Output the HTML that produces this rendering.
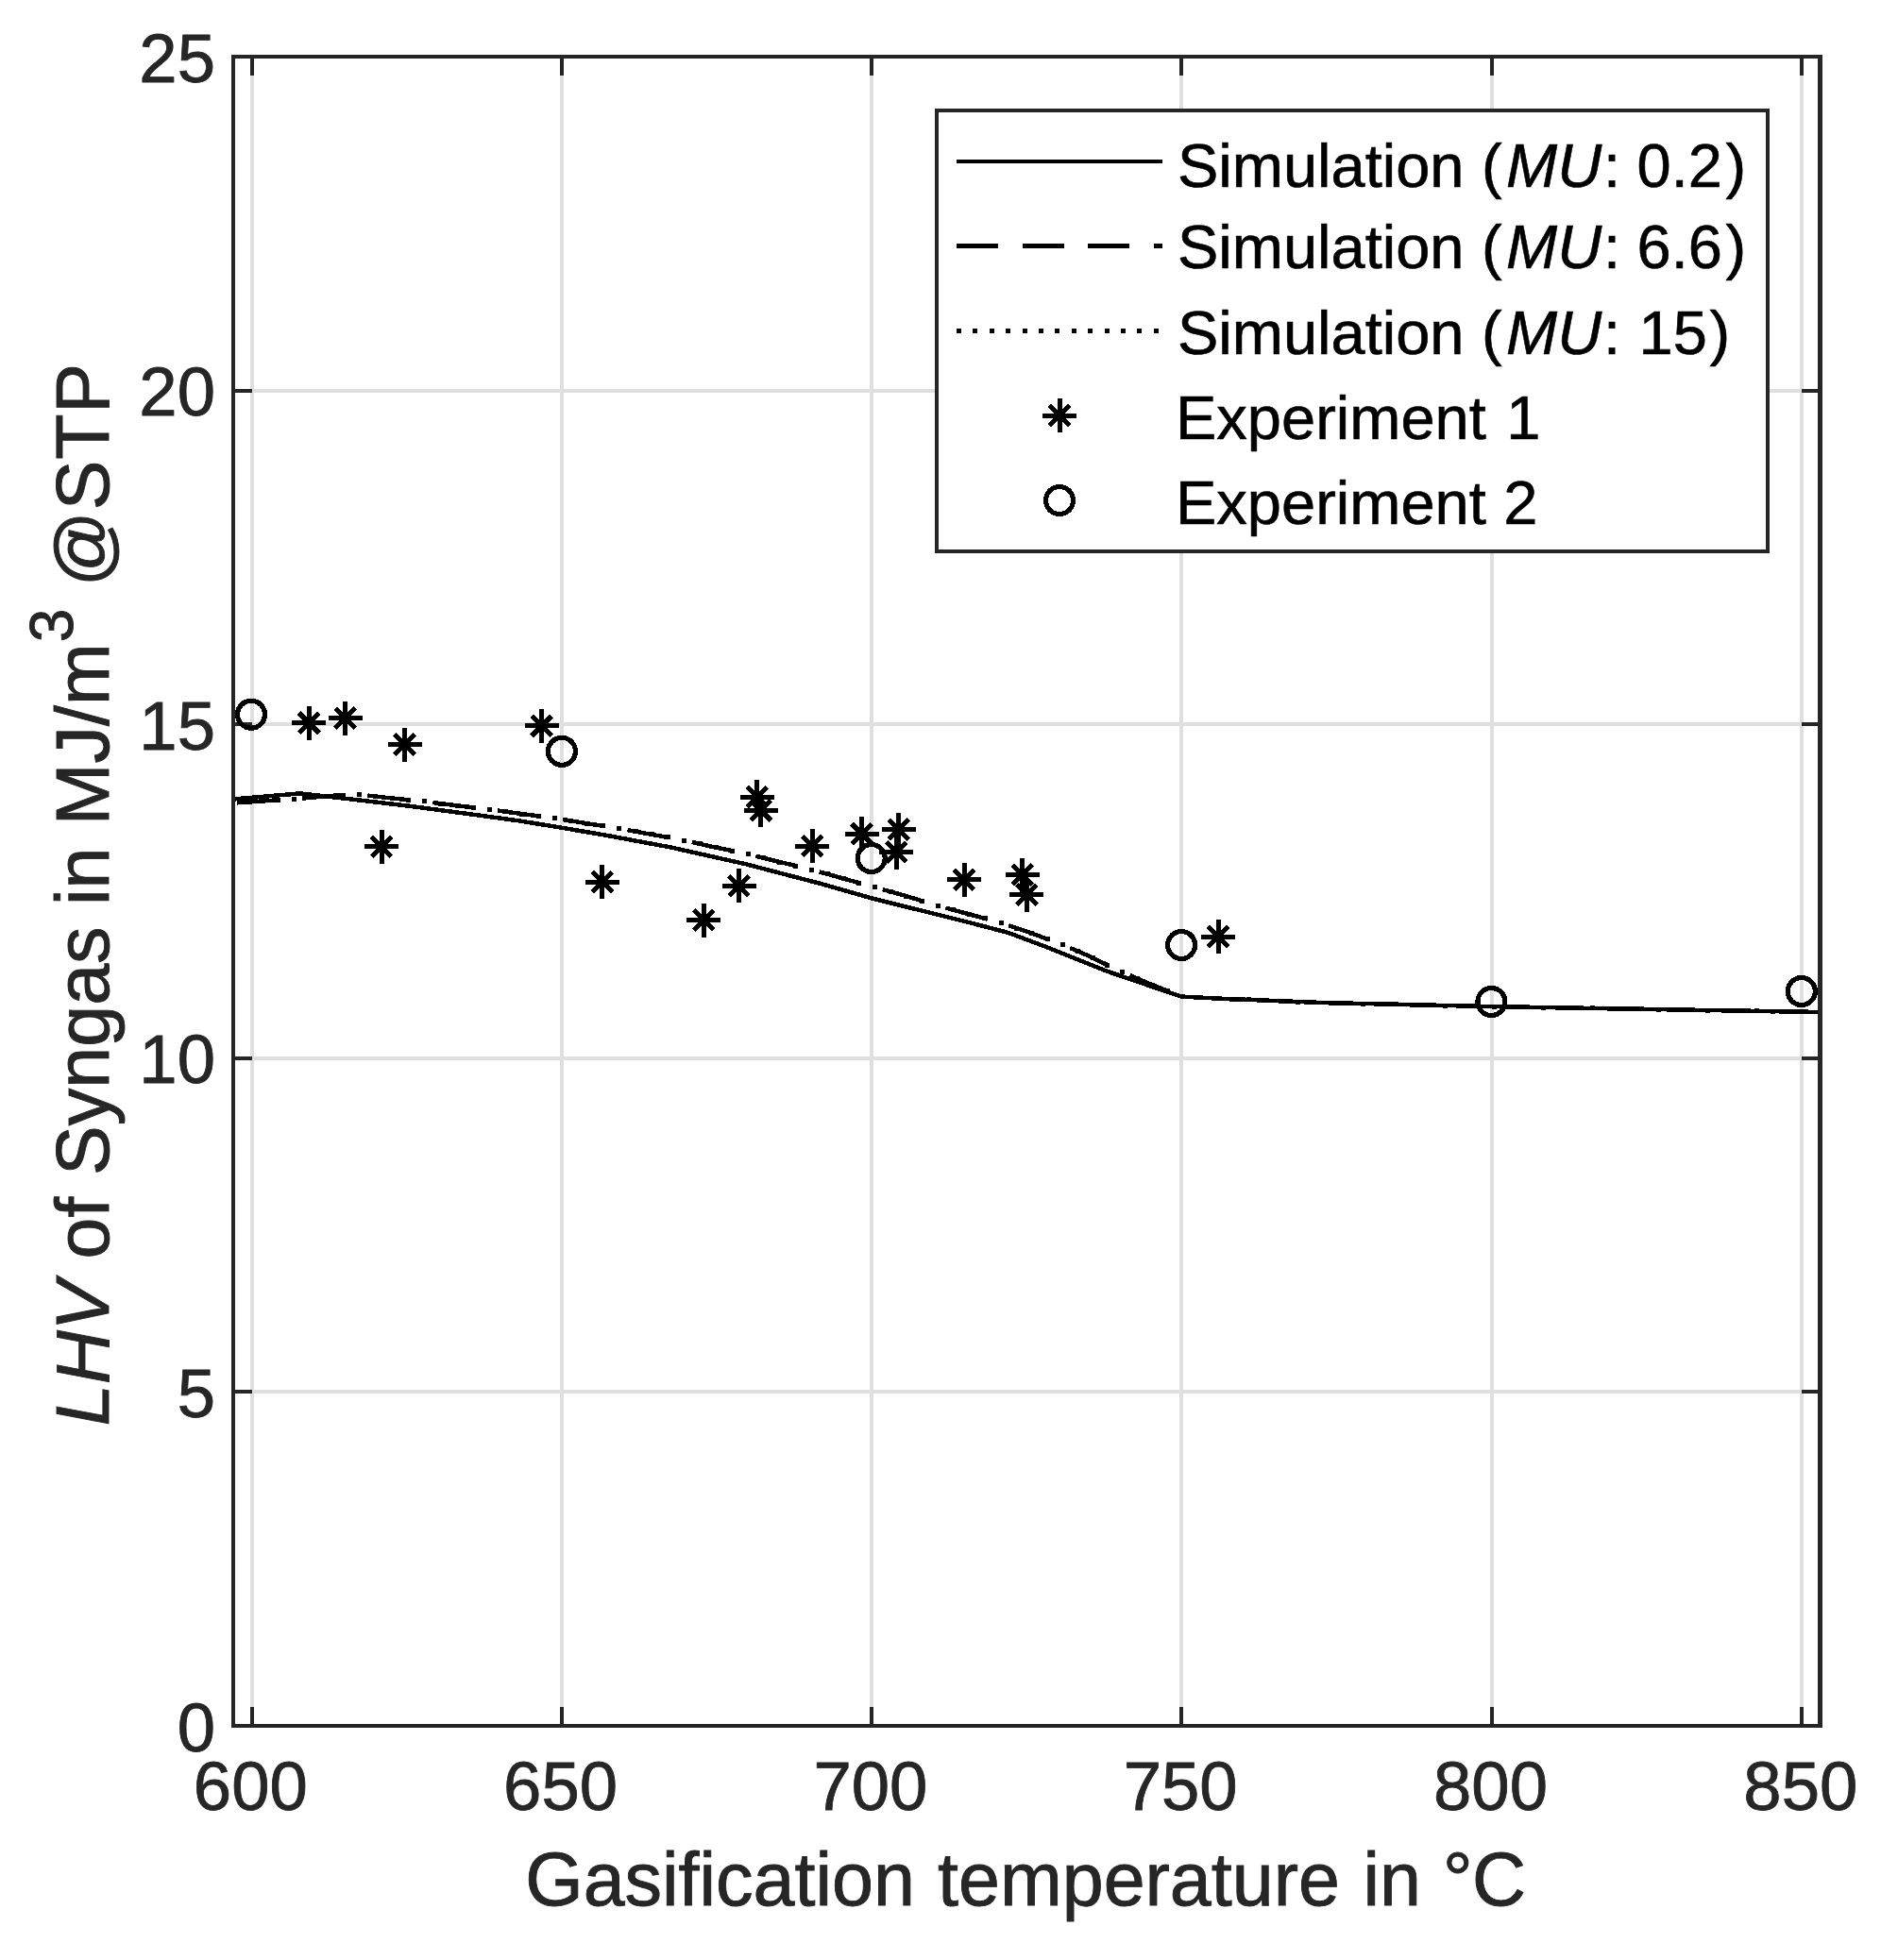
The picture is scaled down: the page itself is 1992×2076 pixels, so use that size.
<!DOCTYPE html>
<html lang="en"><head><meta charset="utf-8"><title>LHV of Syngas vs gasification temperature</title>
<style>html,body{margin:0;padding:0;background:#fff}svg{display:block}text{font-family:"Liberation Sans",Arial,Helvetica,sans-serif}.tk{font-size:72.5px;fill:#262626;stroke:#262626;stroke-width:0.8px}.lb{font-size:79px;fill:#262626;stroke:#262626;stroke-width:0.9px}.lg{font-size:65px;fill:#000;stroke:#000;stroke-width:0.6px}</style></head><body>
<svg width="1992" height="2076" viewBox="0 0 1992 2076">
<rect width="1992" height="2076" fill="#fff"/>
<g stroke="#dfdfdf" stroke-width="4" shape-rendering="crispEdges">
<line x1="266.5" x2="266.5" y1="60.0" y2="1828.0"/>
<line x1="594.8" x2="594.8" y1="60.0" y2="1828.0"/>
<line x1="923.1" x2="923.1" y1="60.0" y2="1828.0"/>
<line x1="1251.4" x2="1251.4" y1="60.0" y2="1828.0"/>
<line x1="1579.7" x2="1579.7" y1="60.0" y2="1828.0"/>
<line x1="1908.0" x2="1908.0" y1="60.0" y2="1828.0"/>
<line x1="247.0" x2="1927.5" y1="1474.4" y2="1474.4"/>
<line x1="247.0" x2="1927.5" y1="1120.8" y2="1120.8"/>
<line x1="247.0" x2="1927.5" y1="767.2" y2="767.2"/>
<line x1="247.0" x2="1927.5" y1="413.6" y2="413.6"/>
</g>
<g stroke="#262626" stroke-width="4" shape-rendering="crispEdges">
<line x1="266.5" x2="266.5" y1="1828.0" y2="1808.0"/><line x1="266.5" x2="266.5" y1="60.0" y2="80.0"/>
<line x1="594.8" x2="594.8" y1="1828.0" y2="1808.0"/><line x1="594.8" x2="594.8" y1="60.0" y2="80.0"/>
<line x1="923.1" x2="923.1" y1="1828.0" y2="1808.0"/><line x1="923.1" x2="923.1" y1="60.0" y2="80.0"/>
<line x1="1251.4" x2="1251.4" y1="1828.0" y2="1808.0"/><line x1="1251.4" x2="1251.4" y1="60.0" y2="80.0"/>
<line x1="1579.7" x2="1579.7" y1="1828.0" y2="1808.0"/><line x1="1579.7" x2="1579.7" y1="60.0" y2="80.0"/>
<line x1="1908.0" x2="1908.0" y1="1828.0" y2="1808.0"/><line x1="1908.0" x2="1908.0" y1="60.0" y2="80.0"/>
<line x1="247.0" x2="267.0" y1="1474.4" y2="1474.4"/><line x1="1927.5" x2="1907.5" y1="1474.4" y2="1474.4"/>
<line x1="247.0" x2="267.0" y1="1120.8" y2="1120.8"/><line x1="1927.5" x2="1907.5" y1="1120.8" y2="1120.8"/>
<line x1="247.0" x2="267.0" y1="767.2" y2="767.2"/><line x1="1927.5" x2="1907.5" y1="767.2" y2="767.2"/>
<line x1="247.0" x2="267.0" y1="413.6" y2="413.6"/><line x1="1927.5" x2="1907.5" y1="413.6" y2="413.6"/>
</g>
<g fill="none" stroke="#000" stroke-width="4.5" shape-rendering="crispEdges">
<path d="M247.0,846.5 L317.6,840.4 L363.6,845.5 L430.0,853.3 L500.0,862.6 L550.0,869.4 L594.6,876.7 L640.0,884.4 L710.0,897.4 L790.0,915.3 L870.0,936.2 L922.8,951.3 L1030.0,978.0 L1068.0,988.0 L1110.0,1003.8 L1172.0,1028.6 L1251.0,1055.6 L1290.0,1057.6 L1400.0,1062.0 L1579.0,1066.1 L1927.5,1072.0"/>
<path d="M247.0,850.6 L274.0,848.8 L297.0,847.1 L311.5,846.3 L343.0,843.6 L375.0,841.0 L380.5,841.5 L409.5,844.9 L449.4,848.9 L481.0,852.9 L518.3,857.4 L549.4,861.6 L587.0,866.5 L617.9,871.6 L655.0,877.4 L686.5,883.2 L723.8,889.9 L754.1,896.8 L791.3,904.4 L822.0,912.1 L858.8,920.9 L925.2,939.5 L955.7,947.9 L991.9,959.0 L1021.1,966.9 L1058.8,977.2 L1088.5,987.1 L1124.0,1000.0 L1153.1,1012.6 L1187.0,1028.9 L1215.0,1041.0 L1251.0,1055.6 L1290.0,1057.6 L1400.0,1062.0 L1579.0,1066.1 L1927.5,1072.0" stroke-dasharray="45.5 23.9" stroke-dashoffset="-4"/>
</g>
<g fill="#000" shape-rendering="crispEdges"><rect x="256.9" y="847.3" width="5" height="5"/><rect x="274.2" y="846.1" width="5" height="5"/><rect x="291.5" y="844.8" width="5" height="5"/><rect x="308.8" y="843.8" width="5" height="5"/><rect x="326.1" y="842.3" width="5" height="5"/><rect x="343.4" y="840.9" width="5" height="5"/><rect x="360.7" y="839.5" width="5" height="5"/><rect x="378.0" y="839.0" width="5" height="5"/><rect x="395.3" y="841.0" width="5" height="5"/><rect x="412.5" y="843.0" width="5" height="5"/><rect x="429.8" y="844.7" width="5" height="5"/><rect x="447.1" y="846.4" width="5" height="5"/><rect x="464.3" y="848.6" width="5" height="5"/><rect x="481.5" y="850.7" width="5" height="5"/><rect x="498.8" y="852.8" width="5" height="5"/><rect x="516.0" y="854.9" width="5" height="5"/><rect x="533.2" y="857.2" width="5" height="5"/><rect x="550.4" y="859.6" width="5" height="5"/><rect x="567.6" y="861.8" width="5" height="5"/><rect x="584.8" y="864.1" width="5" height="5"/><rect x="601.9" y="866.9" width="5" height="5"/><rect x="619.1" y="869.7" width="5" height="5"/><rect x="636.2" y="872.4" width="5" height="5"/><rect x="653.4" y="875.1" width="5" height="5"/><rect x="670.5" y="878.2" width="5" height="5"/><rect x="687.5" y="881.4" width="5" height="5"/><rect x="704.6" y="884.4" width="5" height="5"/><rect x="721.7" y="887.5" width="5" height="5"/><rect x="738.6" y="891.3" width="5" height="5"/><rect x="755.6" y="895.1" width="5" height="5"/><rect x="772.6" y="898.6" width="5" height="5"/><rect x="789.6" y="902.1" width="5" height="5"/><rect x="806.4" y="906.3" width="5" height="5"/><rect x="823.3" y="910.5" width="5" height="5"/><rect x="840.2" y="914.5" width="5" height="5"/><rect x="857.0" y="918.6" width="5" height="5"/><rect x="873.8" y="923.3" width="5" height="5"/><rect x="890.5" y="928.0" width="5" height="5"/><rect x="907.2" y="932.7" width="5" height="5"/><rect x="923.9" y="937.3" width="5" height="5"/><rect x="940.6" y="941.9" width="5" height="5"/><rect x="957.4" y="946.6" width="5" height="5"/><rect x="973.9" y="951.7" width="5" height="5"/><rect x="990.5" y="956.8" width="5" height="5"/><rect x="1007.3" y="961.3" width="5" height="5"/><rect x="1024.1" y="965.9" width="5" height="5"/><rect x="1040.8" y="970.4" width="5" height="5"/><rect x="1057.5" y="975.1" width="5" height="5"/><rect x="1074.0" y="980.6" width="5" height="5"/><rect x="1090.4" y="986.2" width="5" height="5"/><rect x="1106.7" y="992.1" width="5" height="5"/><rect x="1123.0" y="998.2" width="5" height="5"/><rect x="1138.9" y="1005.1" width="5" height="5"/><rect x="1154.8" y="1012.2" width="5" height="5"/><rect x="1170.4" y="1019.7" width="5" height="5"/><rect x="1186.1" y="1027.1" width="5" height="5"/><rect x="1202.1" y="1034.0" width="5" height="5"/><rect x="1218.1" y="1040.8" width="5" height="5"/><rect x="1234.1" y="1047.3" width="5" height="5"/><rect x="1250.4" y="1053.2" width="5" height="5"/><rect x="1267.7" y="1054.1" width="5" height="5"/><rect x="1285.0" y="1055.0" width="5" height="5"/><rect x="1302.4" y="1055.7" width="5" height="5"/><rect x="1319.7" y="1056.4" width="5" height="5"/><rect x="1337.1" y="1057.1" width="5" height="5"/><rect x="1354.4" y="1057.8" width="5" height="5"/><rect x="1371.8" y="1058.5" width="5" height="5"/><rect x="1389.1" y="1059.2" width="5" height="5"/><rect x="1406.5" y="1059.7" width="5" height="5"/><rect x="1423.8" y="1060.1" width="5" height="5"/><rect x="1441.2" y="1060.5" width="5" height="5"/><rect x="1458.5" y="1060.9" width="5" height="5"/><rect x="1475.9" y="1061.3" width="5" height="5"/><rect x="1493.2" y="1061.7" width="5" height="5"/><rect x="1510.6" y="1062.1" width="5" height="5"/><rect x="1527.9" y="1062.5" width="5" height="5"/><rect x="1545.3" y="1062.9" width="5" height="5"/><rect x="1562.7" y="1063.3" width="5" height="5"/><rect x="1580.0" y="1063.7" width="5" height="5"/><rect x="1597.4" y="1064.0" width="5" height="5"/><rect x="1614.7" y="1064.2" width="5" height="5"/><rect x="1632.1" y="1064.5" width="5" height="5"/><rect x="1649.4" y="1064.8" width="5" height="5"/><rect x="1666.8" y="1065.1" width="5" height="5"/><rect x="1684.2" y="1065.4" width="5" height="5"/><rect x="1701.5" y="1065.7" width="5" height="5"/><rect x="1718.9" y="1066.0" width="5" height="5"/><rect x="1736.2" y="1066.3" width="5" height="5"/><rect x="1753.6" y="1066.6" width="5" height="5"/><rect x="1770.9" y="1066.9" width="5" height="5"/><rect x="1788.3" y="1067.2" width="5" height="5"/><rect x="1805.7" y="1067.5" width="5" height="5"/><rect x="1823.0" y="1067.8" width="5" height="5"/><rect x="1840.4" y="1068.1" width="5" height="5"/><rect x="1857.7" y="1068.4" width="5" height="5"/><rect x="1875.1" y="1068.7" width="5" height="5"/><rect x="1892.5" y="1068.9" width="5" height="5"/><rect x="1909.8" y="1069.2" width="5" height="5"/></g>
<g fill="none" stroke="#000" stroke-width="5" shape-rendering="crispEdges">
<path d="M309.2,765.7H345.2M327.2,747.7V783.7M316.6,755.1L337.8,776.3M316.6,776.3L337.8,755.1"/>
<path d="M347.7,760.7H383.7M365.7,742.7V778.7M355.1,750.1L376.3,771.3M355.1,771.3L376.3,750.1"/>
<path d="M410.5,788.6H446.5M428.5,770.6V806.6M417.9,778.0L439.1,799.2M417.9,799.2L439.1,778.0"/>
<path d="M555.6,768.9H591.6M573.6,750.9V786.9M563.0,758.3L584.2,779.5M563.0,779.5L584.2,758.3"/>
<path d="M386.0,896.8H422.0M404.0,878.8V914.8M393.4,886.2L414.6,907.4M393.4,907.4L414.6,886.2"/>
<path d="M619.9,934.3H655.9M637.9,916.3V952.3M627.3,923.7L648.5,944.9M627.3,944.9L648.5,923.7"/>
<path d="M727.2,974.6H763.2M745.2,956.6V992.6M734.6,964.0L755.8,985.2M734.6,985.2L755.8,964.0"/>
<path d="M764.5,938.3H800.5M782.5,920.3V956.3M771.9,927.7L793.1,948.9M771.9,948.9L793.1,927.7"/>
<path d="M783.6,844.0H819.6M801.6,826.0V862.0M791.0,833.4L812.2,854.6M791.0,854.6L812.2,833.4"/>
<path d="M787.8,858.3H823.8M805.8,840.3V876.3M795.2,847.7L816.4,868.9M795.2,868.9L816.4,847.7"/>
<path d="M842.3,896.0H878.3M860.3,878.0V914.0M849.7,885.4L870.9,906.6M849.7,906.6L870.9,885.4"/>
<path d="M894.8,883.3H930.8M912.8,865.3V901.3M902.2,872.7L923.4,893.9M902.2,893.9L923.4,872.7"/>
<path d="M933.8,878.6H969.8M951.8,860.6V896.6M941.2,868.0L962.4,889.2M941.2,889.2L962.4,868.0"/>
<path d="M931.2,902.5H967.2M949.2,884.5V920.5M938.6,891.9L959.8,913.1M938.6,913.1L959.8,891.9"/>
<path d="M1003.0,931.8H1039.0M1021.0,913.8V949.8M1010.4,921.2L1031.6,942.4M1010.4,942.4L1031.6,921.2"/>
<path d="M1064.9,926.5H1100.9M1082.9,908.5V944.5M1072.3,915.9L1093.5,937.1M1072.3,937.1L1093.5,915.9"/>
<path d="M1069.4,947.7H1105.4M1087.4,929.7V965.7M1076.8,937.1L1098.0,958.3M1076.8,958.3L1098.0,937.1"/>
<path d="M1272.0,992.0H1308.0M1290.0,974.0V1010.0M1279.4,981.4L1300.6,1002.6M1279.4,1002.6L1300.6,981.4"/>
</g>
<g fill="none" stroke="#000" stroke-width="5.2" shape-rendering="crispEdges">
<circle cx="266.0" cy="756.7" r="14.5"/>
<circle cx="594.9" cy="795.8" r="14.5"/>
<circle cx="922.7" cy="909.0" r="14.5"/>
<circle cx="1251.1" cy="1001.0" r="14.5"/>
<circle cx="1579.4" cy="1061.0" r="14.5"/>
<circle cx="1907.8" cy="1050.0" r="14.5"/>
</g>
<rect x="247.0" y="60.0" width="1680.5" height="1768.0" fill="none" stroke="#262626" stroke-width="4" shape-rendering="crispEdges"/>
<line x1="1927.5" x2="1927.5" y1="58.0" y2="1830.0" stroke="#262626" stroke-width="5" shape-rendering="crispEdges"/>
<text class="tk" x="265.3" y="1917.3" text-anchor="middle">600</text>
<text class="tk" x="593.6" y="1917.3" text-anchor="middle">650</text>
<text class="tk" x="921.9" y="1917.3" text-anchor="middle">700</text>
<text class="tk" x="1250.2" y="1917.3" text-anchor="middle">750</text>
<text class="tk" x="1578.5" y="1917.3" text-anchor="middle">800</text>
<text class="tk" x="1906.8" y="1917.3" text-anchor="middle">850</text>
<text class="tk" x="228" y="1854.6" text-anchor="end">0</text>
<text class="tk" x="228" y="1501.0" text-anchor="end">5</text>
<text class="tk" x="228" y="1147.4" text-anchor="end">10</text>
<text class="tk" x="228" y="793.8" text-anchor="end">15</text>
<text class="tk" x="228" y="440.2" text-anchor="end">20</text>
<text class="tk" x="228" y="86.6" text-anchor="end">25</text>
<text class="lb" y="2018"><tspan x="556.2">Gasification</tspan> <tspan x="993">temperature</tspan> <tspan x="1443.5">in</tspan> <tspan x="1527.9">°</tspan><tspan x="1559.1">C</tspan></text>
<text class="lb" transform="translate(115,1509) rotate(-90)" y="0"><tspan x="-1.2" font-style="italic">LHV</tspan> <tspan x="175.4">of</tspan> <tspan x="264.1">Syngas</tspan> <tspan x="550">in</tspan> <tspan x="634.7">MJ/m</tspan><tspan x="828.8" y="-37.6" font-size="64">3</tspan> <tspan x="887.7" y="0" letter-spacing="0.8">@STP</tspan></text>
<rect x="992" y="116.5" width="880" height="467.5" fill="#fff" stroke="#262626" stroke-width="4" shape-rendering="crispEdges"/>
<g fill="none" stroke="#000" stroke-width="4" shape-rendering="crispEdges">
<line x1="1013" x2="1231" y1="171" y2="171"/>
<line x1="1013" x2="1231" y1="260.3" y2="260.3" stroke-width="5" stroke-dasharray="44.4 25.1"/>
</g><g fill="#000" shape-rendering="crispEdges"><rect x="1013.0" y="348.0" width="5" height="5"/><rect x="1030.4" y="348.0" width="5" height="5"/><rect x="1047.8" y="348.0" width="5" height="5"/><rect x="1065.2" y="348.0" width="5" height="5"/><rect x="1082.6" y="348.0" width="5" height="5"/><rect x="1100.0" y="348.0" width="5" height="5"/><rect x="1117.4" y="348.0" width="5" height="5"/><rect x="1134.8" y="348.0" width="5" height="5"/><rect x="1152.2" y="348.0" width="5" height="5"/><rect x="1169.6" y="348.0" width="5" height="5"/><rect x="1187.0" y="348.0" width="5" height="5"/><rect x="1204.4" y="348.0" width="5" height="5"/><rect x="1221.8" y="348.0" width="5" height="5"/>
</g>
<g fill="none" stroke="#000" stroke-width="5" shape-rendering="crispEdges"><path d="M1104.0,440.0H1140.0M1122.0,422.0V458.0M1111.4,429.4L1132.6,450.6M1111.4,450.6L1132.6,429.4"/></g>
<circle cx="1122" cy="530" r="14.5" fill="none" stroke="#000" stroke-width="5.2" shape-rendering="crispEdges"/>
<text class="lg" y="197.7"><tspan x="1247">Simulation</tspan> <tspan x="1569">(</tspan><tspan x="1595.1" font-style="italic">MU</tspan><tspan x="1697.9">:</tspan> <tspan x="1733.6">0.2</tspan><tspan x="1827.5">)</tspan></text>
<text class="lg" y="284.0"><tspan x="1247">Simulation</tspan> <tspan x="1569">(</tspan><tspan x="1595.1" font-style="italic">MU</tspan><tspan x="1697.9">:</tspan> <tspan x="1733.6">6.6</tspan><tspan x="1827.5">)</tspan></text>
<text class="lg" y="374.5"><tspan x="1247">Simulation</tspan> <tspan x="1569">(</tspan><tspan x="1595.1" font-style="italic">MU</tspan><tspan x="1697.9">:</tspan> <tspan x="1735.5">15</tspan><tspan x="1810.5">)</tspan></text>
<text class="lg" y="464.7"><tspan x="1245">Experiment</tspan> <tspan x="1595.3">1</tspan></text>
<text class="lg" y="554.5"><tspan x="1245">Experiment</tspan> <tspan x="1592.3">2</tspan></text>
</svg></body></html>
